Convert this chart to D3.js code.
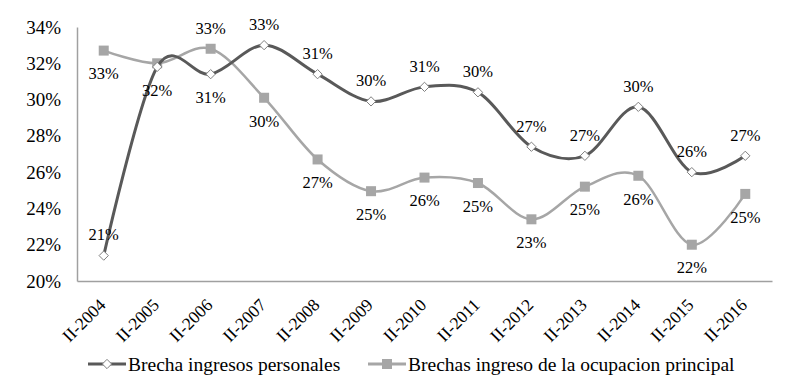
<!DOCTYPE html>
<html>
<head>
<meta charset="utf-8">
<script src="https://cdn.jsdelivr.net/npm/d3@7"></script>
<style>
  body { margin: 0; background: #fff; }
  text { font-family: "Liberation Serif", "Times New Roman", serif; fill: #000; }
</style>
</head>
<body>
<script>
const svgWidth = 810;
const svgHeight = 385;

const periods = ['II-2004', 'II-2005', 'II-2006', 'II-2007', 'II-2008', 'II-2009', 'II-2010',
                 'II-2011', 'II-2012', 'II-2013', 'II-2014', 'II-2015', 'II-2016'];
const personales = [21.4, 31.8, 31.4, 33.0, 31.4, 29.9, 30.7, 30.4, 27.4, 26.9, 29.6, 26.0, 26.9];
const principal = [32.7, 32.0, 32.8, 30.1, 26.7, 24.95, 25.7, 25.4, 23.4, 25.2, 25.8, 22.0, 24.8];
const yTicks = [20, 22, 24, 26, 28, 30, 32, 34];
// where each data label sits relative to its point ('none' = hidden under the other label)
const personalesLabelSide = ['up', 'down', 'down', 'up', 'up', 'up', 'up', 'up', 'up', 'up', 'up', 'up', 'up'];
const principalLabelSide = ['down', 'none', 'up', 'down', 'down', 'down', 'down', 'down', 'down', 'down', 'down', 'down', 'down'];

const margin = {left: 77, right: 38, top: 27, bottom: 104};

const svg = d3.select('body')
              .append('svg')
              .attr('width', svgWidth)
              .attr('height', svgHeight);

const x = d3.scaleBand()
            .domain(periods)
            .range([margin.left, svgWidth - margin.right]);

const y = d3.scaleLinear()
            .domain([20, 34])
            .range([svgHeight - margin.bottom, margin.top]);

const xc = d => x(d) + x.bandwidth() / 2;

// axes
const yAxis = svg.append('g')
                 .attr('transform', `translate(${margin.left},0)`)
                 .call(d3.axisLeft(y).tickValues(yTicks).tickSize(0).tickPadding(16).tickFormat(d => d + '%'));
yAxis.select('.domain').attr('stroke', '#a0a0a0').attr('stroke-width', 1.5);
yAxis.selectAll('text').attr('font-size', 19);

const xAxis = svg.append('g')
                 .attr('transform', `translate(0,${svgHeight - margin.bottom})`)
                 .call(d3.axisBottom(x).tickSize(0).tickSizeOuter(0));
xAxis.select('.domain').attr('stroke', '#a0a0a0').attr('stroke-width', 1.5);
xAxis.selectAll('text')
     .attr('font-size', 17.5)
     .attr('text-anchor', 'end')
     .attr('y', 0)
     .attr('dy', 0)
     .attr('transform', 'translate(3,25) rotate(-45)');

const line = d3.line()
               .x((d, i) => xc(periods[i]))
               .y(d => y(d))
               .curve(d3.curveCatmullRom.alpha(0));

// principal (light) first, personales on top
svg.append('path')
   .datum(principal)
   .attr('d', line)
   .attr('fill', 'none')
   .attr('stroke', '#a6a6a6')
   .attr('stroke-width', 2.5);

svg.selectAll('rect.sq')
   .data(principal)
   .enter()
   .append('rect')
   .attr('class', 'sq')
   .attr('x', (d, i) => xc(periods[i]) - 5)
   .attr('y', d => y(d) - 5)
   .attr('width', 10)
   .attr('height', 10)
   .attr('fill', '#a6a6a6');

svg.append('path')
   .datum(personales)
   .attr('d', line)
   .attr('fill', 'none')
   .attr('stroke', '#595959')
   .attr('stroke-width', 3);

const diamond = d3.symbol().type(d3.symbolDiamond2).size(55);

svg.selectAll('path.dm')
   .data(personales)
   .enter()
   .append('path')
   .attr('class', 'dm')
   .attr('d', diamond)
   .attr('transform', (d, i) => `translate(${xc(periods[i])},${y(d)})`)
   .attr('fill', '#fff')
   .attr('stroke', '#7f7f7f')
   .attr('stroke-width', 1);

function labels(values, sides, cls) {
  svg.selectAll('text.' + cls)
     .data(values.map((v, i) => ({v: v, i: i})).filter(d => sides[d.i] !== 'none'))
     .enter()
     .append('text')
     .attr('class', cls)
     .attr('x', d => xc(periods[d.i]))
     .attr('y', d => y(d.v) + (sides[d.i] === 'up' ? -21 : 23))
     .attr('dy', '0.35em')
     .attr('text-anchor', 'middle')
     .attr('font-size', 16.5)
     .text(d => Math.round(d.v) + '%');
}
labels(principal, principalLabelSide, 'lp');
labels(personales, personalesLabelSide, 'lb');

// legend
const legend = svg.append('g').attr('transform', 'translate(0,364)');
const items = [
  {name: 'Brecha ingresos personales', color: '#595959', x: 88, mark: 'diamond'},
  {name: 'Brechas ingreso de la ocupacion principal', color: '#a6a6a6', x: 368, mark: 'square'}
];
items.forEach(it => {
  const g = legend.append('g').attr('transform', `translate(${it.x},0)`);
  g.append('line')
   .attr('x1', 0).attr('x2', 38)
   .attr('stroke', it.color)
   .attr('stroke-width', 3);
  if (it.mark === 'diamond') {
    g.append('path')
     .attr('d', diamond)
     .attr('transform', 'translate(19,0)')
     .attr('fill', '#fff')
     .attr('stroke', '#7f7f7f');
  } else {
    g.append('rect')
     .attr('x', 14).attr('y', -5)
     .attr('width', 10).attr('height', 10)
     .attr('fill', it.color);
  }
  g.append('text')
   .attr('x', 40)
   .attr('dy', '0.35em')
   .attr('font-size', 19.5)
   .text(it.name);
});
</script>
</body>
</html>
